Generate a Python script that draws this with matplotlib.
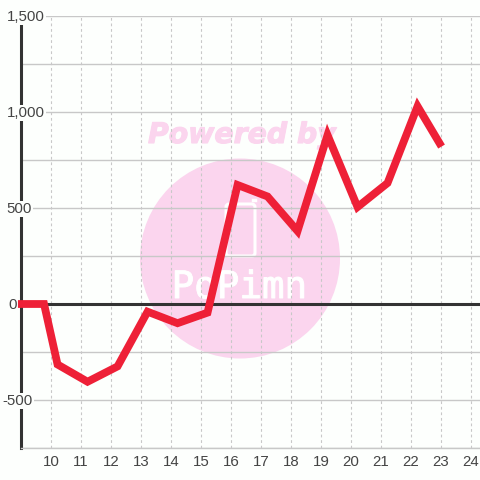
import matplotlib
matplotlib.use("Agg")
import matplotlib.pyplot as plt
import matplotlib.patheffects as pe
from matplotlib.patches import Circle, FancyBboxPatch
from matplotlib.transforms import Affine2D, blended_transform_factory

hours = [8.9, 9.77, 10.22, 11.22, 12.22, 13.22, 14.22, 15.22, 16.22, 17.22, 18.22, 19.22, 20.22, 21.22, 22.22, 23.02]
values = [0, 0, -315, -405, -325, -40, -100, -45, 620, 560, 380, 880, 505, 630, 1030, 820]

x_ticks = list(range(10, 25))
y_ticks = [-750, -500, -250, 0, 250, 500, 750, 1000, 1250, 1500]
y_labelled = [1500, 1000, 500, 0, -500]
y_labels = ["1,500", "1,000", "500", "0", "-500"]
y_label_left = [6.5, 6.5, 6.5, 8, 2]

BG = "#fdfffd"
PINK = "#fbd5ee"
RED = "#ee2037"
DARK = "#333333"
GRID = "#c8c8c8"
TEXT = "#444444"

plt.rcParams["font.family"] = ["Liberation Sans", "DejaVu Sans"]

fig = plt.figure(figsize=(4.8, 4.8), dpi=100, facecolor=BG)
ax = fig.add_axes([20.5 / 480, 32 / 480, 459.5 / 480, 432 / 480], facecolor=BG)
ax.set_xlim(8.985, 24.302)
ax.set_ylim(-750, 1500)

# pixel coords, y going down like the screenshot
px = Affine2D().scale(1, -1).translate(0, 480)

# watermark sits under the grid
ax.add_patch(Circle((240, 258.5), 100, transform=px, fc=PINK, ec="none", zorder=0.2))
ax.text(148, 135, "Powered by", transform=px, family="DejaVu Sans", weight="bold", style="italic",
        fontsize=20.4, color=PINK, va="center", ha="left", zorder=0.2,
        path_effects=[pe.withStroke(linewidth=0.8, foreground=PINK)])
ax.add_patch(FancyBboxPatch((226, 204), 29, 52, boxstyle="round,pad=0,rounding_size=3", transform=px,
                            fc="none", ec="white", lw=2.2, zorder=0.3))
ax.plot([253, 255], [200, 200], transform=px, color="white", lw=2.5, zorder=0.3)
ax.text(239.5, 288, "PoPimn", transform=px, family="DejaVu Sans Mono", fontsize=27, color="white",
        ha="center", va="center", zorder=0.3,
        path_effects=[pe.withStroke(linewidth=0.7, foreground="white")])

ax.set_axisbelow(True)
ax.set_xticks(x_ticks)
ax.set_yticks(y_ticks)
ax.set_yticklabels([])
ax.grid(axis="y", color=GRID, lw=1, ls="-")
ax.grid(axis="x", color=GRID, lw=0.8, ls=(0, (2.5, 2.5)))
ax.tick_params(axis="both", length=0)
ax.tick_params(axis="x", labelsize=10.8, labelcolor=TEXT, pad=5)

for side in ["top", "right"]:
    ax.spines[side].set_visible(False)
ax.spines["left"].set_color(DARK)
ax.spines["left"].set_linewidth(2.2)
ax.spines["left"].set_zorder(2.5)
ax.spines["bottom"].set_color(GRID)
ax.spines["bottom"].set_linewidth(1)

ax.axhline(0, color=DARK, lw=2.2, zorder=2)

trans = blended_transform_factory(px, ax.transData + Affine2D().translate(0, -1))
for val, lab, left in zip(y_labelled, y_labels, y_label_left):
    ax.text(left, val, lab, transform=trans, fontsize=10.8, color=TEXT, ha="left", va="center",
            clip_on=False, zorder=3, bbox=dict(fc=BG, ec="none", pad=1))

ax.plot(hours, values, color=RED, lw=5.6, solid_capstyle="butt", solid_joinstyle="miter",
        clip_on=False, zorder=4)

fig.savefig("out.png", dpi=100, facecolor=BG)
